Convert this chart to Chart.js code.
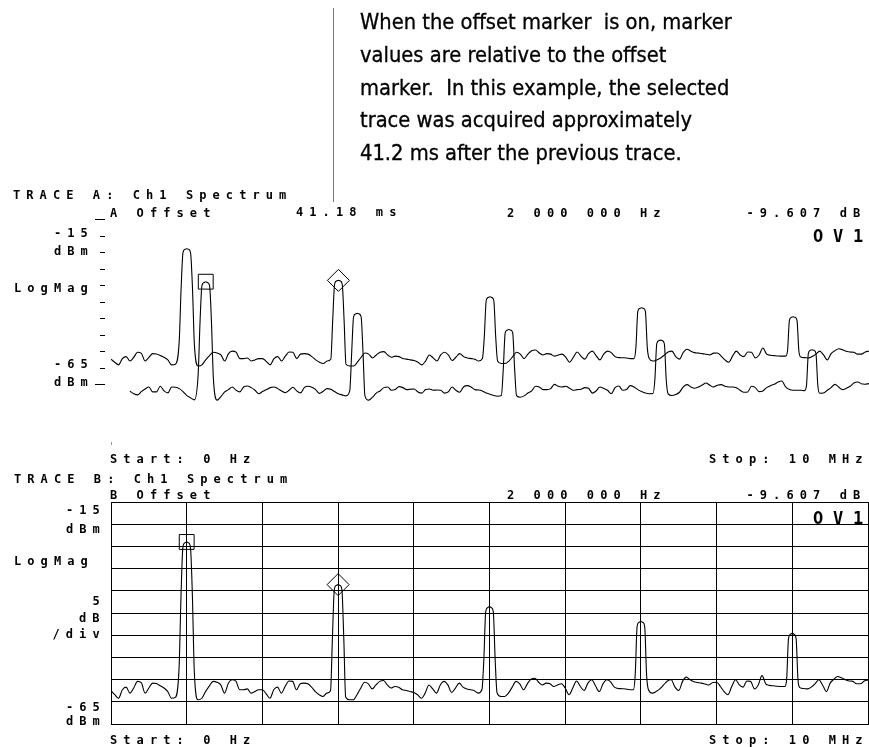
<!DOCTYPE html>
<html>
<head>
<meta charset="utf-8">
<title>Ch1 Spectrum – offset marker</title>
<script src="https://cdn.jsdelivr.net/npm/chart.js@4"></script>
<style>
  html, body { margin: 0; padding: 0; background: #fff; }
  #page { position: relative; width: 869px; height: 747px; overflow: hidden; background: #fff; }
  #page canvas { position: absolute; left: 0; top: 0; }
  .t {
    position: absolute; white-space: pre; color: #000;
    font-family: "DejaVu Sans Mono", "Liberation Mono", monospace;
    font-weight: bold; font-size: 12px; line-height: 16px; letter-spacing: 6.08px;
  }
  .big { font-size: 17px; line-height: 20px; letter-spacing: 9.8px; }
  #note {
    position: absolute; left: 360px; top: 6px; transform-origin: 0 0;
    font-family: "DejaVu Sans Condensed", "DejaVu Sans", sans-serif; font-stretch: condensed;
    font-size: 21px; line-height: 32.75px; color: #000; white-space: pre;
    -webkit-text-stroke: 0.3px #000;
  }
  #rule { position: absolute; left: 333px; top: 8px; width: 1px; height: 194px; background: #777; }
  #tick0 { position: absolute; left: 111px; top: 442px; width: 1px; height: 3px; background: #999; }
</style>
</head>
<body>
<div id="page">
  <canvas id="traceA" width="869" height="747"></canvas>
  <canvas id="traceB" width="869" height="747"></canvas>

  <div id="rule"></div>
  <div id="note"><div><span>When the offset marker  is on, marker</span></div><div><span>values are relative to the offset</span></div><div><span>marker.  In this example, the selected</span></div><div><span id="noteFit">trace was acquired approximately</span></div><div><span>41.2 ms after the previous trace.</span></div></div>

  <!-- Trace A header and axis annotations -->
  <div class="t" style="left:13px;top:187px">TRACE A: Ch1 Spectrum</div>
  <div class="t" style="left:110px;top:205px">A Offset</div>
  <div class="t" style="left:296px;top:204px">41.18 ms</div>
  <div class="t" style="left:507px;top:205px">2 000 000 Hz</div>
  <div class="t" style="left:746.5px;top:205px">-9.607 dB</div>
  <div class="t big" style="left:813px;top:226px">OV1</div>
  <div class="t" style="left:54px;top:225px">-15</div>
  <div class="t" style="left:54px;top:243px">dBm</div>
  <div class="t" style="left:14px;top:280px">LogMag</div>
  <div class="t" style="left:54px;top:356px">-65</div>
  <div class="t" style="left:54px;top:374px">dBm</div>
  <div id="tick0"></div>
  <div class="t" style="left:110px;top:451px">Start: 0 Hz</div>
  <div class="t" style="left:709px;top:451px">Stop: 10 MHz</div>

  <!-- Trace B header and axis annotations -->
  <div class="t" style="left:14px;top:471px">TRACE B: Ch1 Spectrum</div>
  <div class="t" style="left:110px;top:487px">B Offset</div>
  <div class="t" style="left:507px;top:487px">2 000 000 Hz</div>
  <div class="t" style="left:746.5px;top:487px">-9.607 dB</div>
  <div class="t big" style="left:813px;top:508px">OV1</div>
  <div class="t" style="left:66px;top:502px">-15</div>
  <div class="t" style="left:66px;top:521px">dBm</div>
  <div class="t" style="left:14px;top:553px">LogMag</div>
  <div class="t" style="left:92.5px;top:593px">5</div>
  <div class="t" style="left:79px;top:610px">dB</div>
  <div class="t" style="left:52.5px;top:626px">/div</div>
  <div class="t" style="left:66px;top:699px">-65</div>
  <div class="t" style="left:66px;top:713px">dBm</div>
  <div class="t" style="left:110px;top:732px">Start: 0 Hz</div>
  <div class="t" style="left:709px;top:732px">Stop: 10 MHz</div>
</div>

<script>
// Sweep frequencies (MHz); denser sampling across each carrier.
const freqMHz = [
  0, 0.05, 0.1, 0.15, 0.2, 0.25, 0.3, 0.35, 0.4, 0.45, 0.5, 0.55, 0.6, 0.65, 0.7, 0.75, 0.8, 0.85,
  0.9, 0.925, 0.95, 0.975, 1, 1.025, 1.05, 1.075, 1.1,
  1.15, 1.2, 1.25, 1.3, 1.35, 1.4, 1.45, 1.5, 1.55, 1.6, 1.65, 1.7, 1.75, 1.8, 1.85, 1.9, 1.95, 2,
  2.05, 2.1, 2.15, 2.2, 2.25, 2.3, 2.35, 2.4, 2.45, 2.5, 2.55, 2.6, 2.65, 2.7, 2.75, 2.8, 2.85,
  2.9, 2.925, 2.95, 2.975, 3, 3.025, 3.05, 3.075, 3.1,
  3.15, 3.2, 3.25, 3.3, 3.35, 3.4, 3.45, 3.5, 3.55, 3.6, 3.65, 3.7, 3.75, 3.8, 3.85, 3.9, 3.95, 4,
  4.05, 4.1, 4.15, 4.2, 4.25, 4.3, 4.35, 4.4, 4.45, 4.5, 4.55, 4.6, 4.65, 4.7, 4.75, 4.8, 4.85,
  4.9, 4.925, 4.95, 4.975, 5, 5.025, 5.05, 5.075, 5.1,
  5.15, 5.2, 5.25, 5.3, 5.35, 5.4, 5.45, 5.5, 5.55, 5.6, 5.65, 5.7, 5.75, 5.8, 5.85, 5.9, 5.95, 6,
  6.05, 6.1, 6.15, 6.2, 6.25, 6.3, 6.35, 6.4, 6.45, 6.5, 6.55, 6.6, 6.65, 6.7, 6.75, 6.8, 6.85,
  6.9, 6.925, 6.95, 6.975, 7, 7.025, 7.05, 7.075, 7.1,
  7.15, 7.2, 7.25, 7.3, 7.35, 7.4, 7.45, 7.5, 7.55, 7.6, 7.65, 7.7, 7.75, 7.8, 7.85, 7.9, 7.95, 8,
  8.05, 8.1, 8.15, 8.2, 8.25, 8.3, 8.35, 8.4, 8.45, 8.5, 8.55, 8.6, 8.65, 8.7, 8.75, 8.8, 8.85,
  8.9, 8.925, 8.95, 8.975, 9, 9.025, 9.05, 9.075, 9.1,
  9.15, 9.2, 9.25, 9.3, 9.35, 9.4, 9.45, 9.5, 9.55, 9.6, 9.65, 9.7, 9.75, 9.8, 9.85, 9.9, 9.95, 10
];

// Selected trace (dBm) – shown in Trace B and as the front trace of Trace A.
const selectedTraceDbm = [
  -57.5, -58.4, -59.2, -57.3, -56.7, -58.05, -56.9, -55.4, -55.7, -58.05, -56.9, -55.8, -55.9, -56.4, -56.9, -57.7, -59.2, -59.0,
  -52, -36, -25.1, -24.2, -24.0, -24.2, -25.3, -36, -53,
  -59.55, -59.2, -57.7, -56.4, -55.4, -55.6, -56.2, -58.05, -55.8, -55.05, -55.35, -57.3, -57.3, -57.1, -58.05, -57.7, -57.3, -57.3,
  -58.2, -59.2, -57.3, -56.7, -58.05, -56.55, -55.3, -55.4, -57.3, -55.95, -55.8, -55.95, -56.7, -57.7, -58.4, -58.8, -58.05,
  -57.5, -45.6, -34.7, -33.8, -33.607, -33.8, -34.7, -45.6, -59.0,
  -59.55, -59.55, -58.4, -56.9, -55.6, -55.95, -57.1, -56.2, -55.4, -55.2, -56.2, -56.9, -56.55, -56.7, -57.3, -57.45, -57.7, -57.9,
  -58.4, -59.2, -58.05, -56.2, -57.1, -58.05, -56.2, -55.4, -56.2, -57.9, -56.9, -55.8, -56.7, -57.1, -57.3, -57.5, -58.05,
  -57.3, -50.6, -39.7, -38.8, -38.55, -38.8, -39.7, -50.6, -58.0,
  -58.8, -58.8, -58.05, -56.7, -55.4, -55.95, -57.3, -55.95, -54.9, -54.7, -55.6, -56.2, -55.8, -55.95, -56.55, -56.2, -55.95, -56.9,
  -58.4, -56.9, -55.3, -56.55, -57.45, -55.8, -55.05, -56.4, -57.7, -55.95, -55.05, -55.5, -56.7, -57.0, -57.05, -57.1, -57.3,
  -57.3, -53.9, -43.0, -42.1, -41.9, -42.1, -43.0, -53.9, -57.3,
  -58.05, -57.7, -57.1, -56.2, -55.3, -55.05, -56.7, -57.45, -55.4, -54.45, -55.05, -55.5, -55.65, -55.8, -56.0, -56.2, -55.65, -55.6,
  -56.55, -57.7, -58.4, -56.55, -55.05, -56.2, -56.7, -55.3, -55.4, -57.1, -56.2, -54.1, -55.95, -56.3, -56.4, -56.5, -56.55,
  -56.55, -55.0, -45.7, -44.8, -44.6, -44.8, -45.7, -55.0, -56.8,
  -57.0, -57.1, -56.7, -55.95, -55.05, -56.2, -57.7, -55.8, -54.9, -54.3, -54.6, -55.05, -55.3, -55.4, -55.95, -55.95, -55.3, -55.05
];

// Previous trace (dBm) – drawn behind in the Trace A waterfall.
const previousTraceDbm = [
  -57.2, -57.95, -58.3, -57.3, -56.5, -55.9, -57.4, -57.4, -55.7, -57.1, -57.7, -55.9, -56.0, -56.4, -57.3, -58.5, -59.2, -59.8,
  -52, -36, -25.1, -24.3, -24.0, -24.3, -25.1, -36, -53,
  -59.9, -58.8, -57.4, -56.7, -55.9, -56.9, -57.4, -55.9, -55.6, -56.1, -56.9, -57.95, -57.3, -56.7, -56.1, -55.9, -56.4, -57.1,
  -57.6, -56.9, -56.0, -57.1, -57.7, -56.1, -55.7, -56.0, -56.7, -57.85, -57.2, -56.4, -56.6, -57.3, -57.95, -58.3, -58.6,
  -57.0, -45.6, -34.7, -33.8, -33.6, -33.8, -34.7, -45.6, -58.6,
  -59.9, -59.0, -57.75, -57.1, -56.1, -55.9, -56.9, -56.7, -55.8, -56.1, -56.7, -56.6, -56.5, -57.4, -57.75, -56.7, -56.5, -56.9,
  -56.8, -56.9, -57.75, -57.4, -55.9, -56.9, -57.5, -55.9, -55.5, -55.9, -56.7, -56.8, -57.1, -57.75, -58.1, -58.5, -58.7,
  -58.5, -50.5, -39.6, -38.7, -38.5, -38.7, -39.6, -50.5, -58.5,
  -59.0, -58.6, -57.75, -57.1, -55.7, -55.9, -56.7, -56.7, -56.4, -55.1, -55.7, -55.9, -55.7, -56.3, -56.9, -56.7, -56.6, -56.1,
  -56.3, -57.75, -57.1, -55.9, -56.3, -56.9, -57.95, -56.1, -55.6, -56.9, -56.7, -55.5, -55.9, -56.7, -57.3, -57.75, -57.95,
  -57.9, -53.7, -42.8, -41.9, -41.7, -41.9, -42.8, -53.7, -58.0,
  -58.5, -58.2, -57.5, -55.9, -55.2, -55.9, -56.3, -55.9, -55.3, -54.7, -55.4, -55.9, -55.4, -55.2, -55.7, -55.9, -55.9, -56.1,
  -56.9, -57.5, -57.4, -55.7, -56.1, -57.3, -57.1, -56.1, -55.5, -55.1, -54.4, -54.1, -55.9, -56.7, -56.9, -56.9, -56.9,
  -57.0, -55.5, -45.7, -44.8, -44.6, -44.8, -45.7, -55.5, -57.8,
  -57.75, -56.9, -56.1, -55.1, -55.9, -56.7, -56.3, -55.7, -54.7, -54.4, -54.9, -55.1, -54.9, -55.3, -55.6, -55.2, -55.8, -56.0
];

// Marker positions (MHz)
const offsetMarkerMHz = 1;
const markerMHz = 3;

// Display range: -15 … -65 dBm, 5 dB/div; 0 … 10 MHz
const refLevelDbm = -15;
const bottomLevelDbm = -65;
const dbPerDiv = 5;
const startMHz = 0;
const stopMHz = 10;

// Waterfall displacement of the previous trace in Trace A
const waterfallShiftMHz = 0.25;
const waterfallShiftDb = 10;

// ---- helpers ----
const toPoints = (xs, ys, dx = 0, dy = 0) => xs.map((x, i) => ({ x: x + dx, y: ys[i] - dy }));
const levelAt = (xs, ys, f) => ys[xs.indexOf(f)];

const INK = '#000';
const traceStyle = {
  borderColor: INK, borderWidth: 1.1, pointRadius: 0,
  cubicInterpolationMode: 'monotone', fill: false
};
const markerStyle = (style, r) => ({
  showLine: false, pointStyle: style, pointRadius: r,
  pointBorderColor: INK, pointBackgroundColor: 'rgba(0,0,0,0)', pointBorderWidth: 1,
  borderColor: INK, clip: false
});

// Short tick marks to the left of the Trace A display
const sideTicks = {
  id: 'sideTicks',
  afterDraw(chart) {
    const y = chart.scales.y;
    const left = chart.chartArea.left;
    const ctx = chart.ctx;
    ctx.save();
    ctx.strokeStyle = INK;
    ctx.lineWidth = 1;
    y.ticks.forEach((t, i) => {
      const py = Math.round(y.getPixelForValue(t.value)) + 0.5;
      const edge = i === 0 || i === y.ticks.length - 1;
      ctx.beginPath();
      ctx.moveTo(left - (edge ? 16 : 11), py);
      ctx.lineTo(left - 6, py);
      ctx.stroke();
    });
    ctx.restore();
  }
};

const common = {
  responsive: false,
  animation: false,
  devicePixelRatio: 1,
  events: [],
  plugins: { legend: { display: false }, tooltip: { enabled: false } }
};

// ---- Trace A: waterfall of previous and selected traces ----
new Chart(document.getElementById('traceA'), {
  type: 'line',
  data: {
    datasets: [
      Object.assign({ data: toPoints(freqMHz, selectedTraceDbm), clip: { left: 0, right: 0, top: 40, bottom: 40 } }, traceStyle),
      Object.assign({ data: toPoints(freqMHz, previousTraceDbm, waterfallShiftMHz, waterfallShiftDb), clip: { left: 0, right: 0, top: 40, bottom: 40 } }, traceStyle),
      Object.assign({ data: [{ x: offsetMarkerMHz + waterfallShiftMHz, y: levelAt(freqMHz, previousTraceDbm, offsetMarkerMHz) - waterfallShiftDb }] }, markerStyle('rect', 10.5)),
      Object.assign({ data: [{ x: markerMHz, y: levelAt(freqMHz, selectedTraceDbm, markerMHz) }] }, markerStyle('rectRot', 11))
    ]
  },
  options: Object.assign({}, common, {
    layout: { autoPadding: false, padding: { left: 111, top: 219, right: 0, bottom: 747 - 384 } },
    scales: {
      x: { type: 'linear', min: startMHz, max: stopMHz, display: false },
      y: {
        type: 'linear', min: bottomLevelDbm, max: refLevelDbm,
        ticks: { stepSize: dbPerDiv, display: false },
        grid: { drawOnChartArea: false, drawTicks: false },
        border: { display: false },
        afterFit(s) { s.width = 0; }
      }
    }
  }),
  plugins: [sideTicks]
});

// ---- Trace B: selected trace on the graticule ----
new Chart(document.getElementById('traceB'), {
  type: 'line',
  data: {
    datasets: [
      Object.assign({ data: toPoints(freqMHz, selectedTraceDbm) }, traceStyle),
      Object.assign({ data: [{ x: offsetMarkerMHz, y: levelAt(freqMHz, selectedTraceDbm, offsetMarkerMHz) }] }, markerStyle('rect', 10.5)),
      Object.assign({ data: [{ x: markerMHz, y: levelAt(freqMHz, selectedTraceDbm, markerMHz) }] }, markerStyle('rectRot', 11))
    ]
  },
  options: Object.assign({}, common, {
    layout: { autoPadding: false, padding: { left: 111, top: 502, right: 1, bottom: 747 - 724 } },
    scales: {
      x: {
        type: 'linear', min: startMHz, max: stopMHz,
        ticks: { stepSize: 1, display: false },
        grid: { color: INK, lineWidth: 1, drawTicks: false },
        border: { color: INK, width: 1 },
        afterFit(s) { s.height = 0; }
      },
      y: {
        type: 'linear', min: bottomLevelDbm, max: refLevelDbm,
        ticks: { stepSize: dbPerDiv, display: false },
        grid: { color: INK, lineWidth: 1, drawTicks: false },
        border: { color: INK, width: 1 },
        afterFit(s) { s.width = 0; }
      }
    }
  })
});

// Fit the condensed annotation text to its column width
(function fitNote() {
  const probe = document.getElementById('noteFit');
  const w = probe.getBoundingClientRect().width;
  if (w > 0) document.getElementById('note').style.transform = 'scaleX(' + (332 / w) + ')';
})();
</script>
</body>
</html>
